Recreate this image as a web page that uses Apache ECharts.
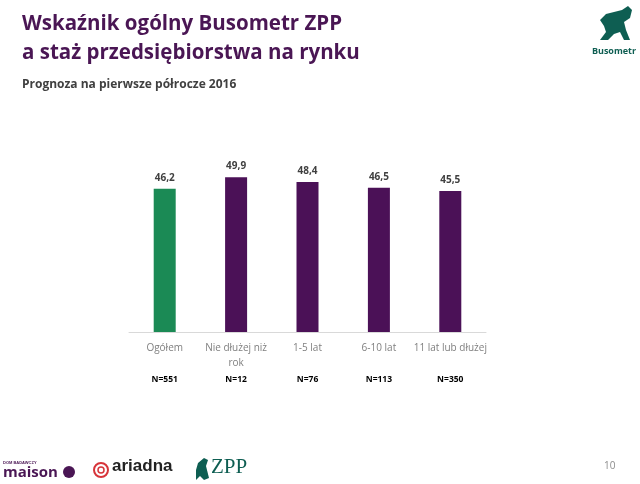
<!DOCTYPE html>
<html><head><meta charset="utf-8">
<script src="https://cdn.jsdelivr.net/npm/echarts@6/dist/echarts.min.js"></script>
<style>html,body{margin:0;padding:0;background:#fff}#c{width:640px;height:484px}</style>
</head><body><div id="c"></div>
<script>
const categories = ['Ogółem', 'Nie dłużej niż\nrok', '1-5 lat', '6-10 lat', '11 lat lub dłużej'];
const values = [46.2, 49.9, 48.4, 46.5, 45.5];
const nLabels = ['N=551', 'N=12', 'N=76', 'N=113', 'N=350'];
const barColors = ['#1b8a55', '#4b1157', '#4b1157', '#4b1157', '#4b1157'];

const chart = echarts.init(document.getElementById('c'));
const F = 'Open Sans, Liberation Sans, sans-serif';
chart.setOption({
  animation: false,
  backgroundColor: '#fff',
  grid: { left: 129, right: 154, top: 146, bottom: 152 },
  title: [
    { text: 'Wskaźnik ogólny Busometr ZPP\na staż przedsiębiorstwa na rynku', left: 17, top: 5,
      textStyle: { fontFamily: F, fontSize: 20.5, fontWeight: 'bold', color: '#4a1654', lineHeight: 29 } },
    { text: 'Prognoza na pierwsze półrocze 2016', left: 17, top: 74,
      textStyle: { fontFamily: F, fontSize: 12, fontWeight: 'bold', color: '#404040' } }
  ],
  xAxis: [
    { type: 'category', data: categories, position: 'bottom',
      axisLine: { lineStyle: { color: '#d9d9d9' } }, axisTick: { show: false },
      axisLabel: { color: '#7f7f7f', fontFamily: F, fontSize: 10, margin: 9, lineHeight: 15, interval: 0 } },
    { type: 'category', data: nLabels, position: 'bottom', offset: 35,
      axisLine: { show: false }, axisTick: { show: false },
      axisLabel: { color: '#000', fontFamily: F, fontSize: 8.5, fontWeight: 'bold', interval: 0 } }
  ],
  yAxis: { type: 'value', min: 0, max: 60, show: false, splitLine: { show: false } },
  series: [{
    type: 'bar', barWidth: 22, xAxisIndex: 0,
    data: values.map((v, i) => ({ value: v, itemStyle: { color: barColors[i] } })),
    label: { show: true, position: 'top', distance: 6, fontFamily: F, fontSize: 10, fontWeight: 'bold', color: '#404040',
      formatter: p => String(p.value).replace('.', ',') }
  }],
  graphic: [
    { type: 'polygon', shape: { points: [[600,20],[606,14],[614,12],[622,10],[628,6],[632,10],[630,18],[624,22],[626,30],[630,40],[624,40],[620,32],[614,34],[608,40],[600,40],[606,32],[604,26]] },
      style: { fill: '#0e5e52' } },
    { type: 'text', x: 614, y: 47, style: { text: 'Busometr', font: 'bold 9px Open Sans, sans-serif', fill: '#0e5e52', textAlign: 'center' } },
    { type: 'text', left: 604, top: 461, style: { text: '10', font: '10px Open Sans, sans-serif', fill: '#8c8c8c' } },
    { type: 'text', left: 3, top: 461, style: { text: 'DOM BADAWCZY', font: 'bold 4px sans-serif', fill: '#4a1654' } },
    { type: 'text', left: 3, top: 465, style: { text: 'maison', font: 'bold 15px Open Sans, sans-serif', fill: '#4a1654' } },
    { type: 'circle', shape: { cx: 69, cy: 472, r: 6 }, style: { fill: '#4a1654' } },
    { type: 'circle', shape: { cx: 101, cy: 470, r: 7 }, style: { fill: 'none', stroke: '#d7343a', lineWidth: 2 } },
    { type: 'circle', shape: { cx: 101, cy: 470, r: 3 }, style: { fill: 'none', stroke: '#d7343a', lineWidth: 1.5 } },
    { type: 'text', left: 112, top: 458, style: { text: 'ariadna', font: 'bold 17px Liberation Sans, sans-serif', fill: '#222' } },
    { type: 'polygon', shape: { points: [[198,463],[204,458],[208,460],[206,466],[209,478],[204,480],[200,476],[196,480],[196,470]] }, style: { fill: '#0e5e52' } },
    { type: 'text', left: 211, top: 457, style: { text: 'ZPP', font: '21px Liberation Serif, serif', fill: '#0e5e52' } }
  ]
});
</script></body></html>
